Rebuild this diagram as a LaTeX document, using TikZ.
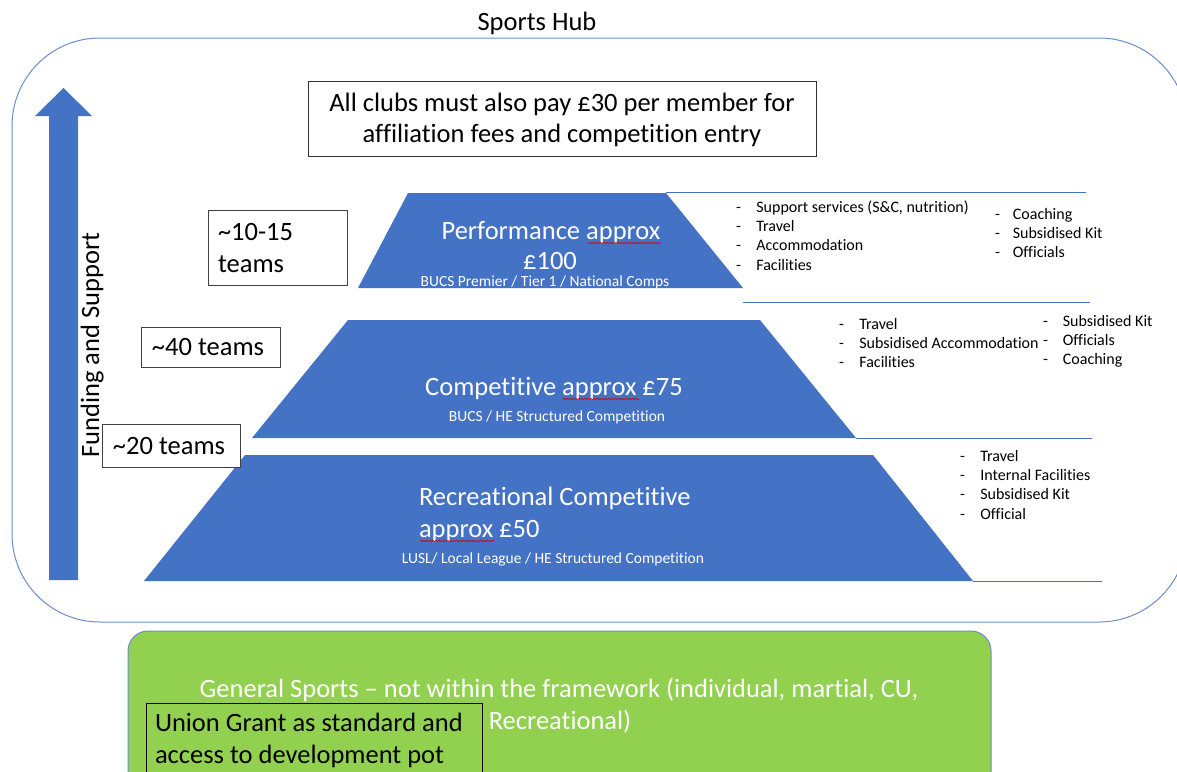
\documentclass[tikz,border=0pt]{standalone}
\usepackage{fontspec}
\setmainfont{Carlito}[Ligatures=NoCommon]
\usetikzlibrary{decorations.pathmorphing}
\definecolor{pblue}{HTML}{4472C4}
\definecolor{oblue}{HTML}{6C8EC9}
\definecolor{pgreen}{HTML}{92D050}
\begin{document}
\begin{tikzpicture}[x=1pt,y=-1pt,
  every node/.style={inner sep=0pt, outer sep=0pt},
  tier/.style={fill=pblue, draw=none},
  sepline/.style={draw=pblue, line width=0.9pt},
  bigtxt/.style={font=\fontsize{26.5}{32}\selectfont},
  tiertxt/.style={font=\fontsize{26.5}{32}\selectfont, text=white},
  smalltxt/.style={font=\fontsize{15.5}{18}\selectfont, text=white},
  bultxt/.style={font=\fontsize{16}{19.4}\selectfont, anchor=base west},
  teambox/.style={draw=black!75, line width=0.9pt, fill=white},
  squig/.style={draw=red!85!black, line width=0.6pt, decorate,
    decoration={snake, segment length=3pt, amplitude=0.8pt}}
]
\useasboundingbox (0,0) rectangle (1177,771);

% Sports hub frame
\draw[oblue, line width=1pt, rounded corners=88pt] (12,38) rectangle (1187,622);
\node[bigtxt, anchor=base] (hub) at (537,30.5) {Sports Hub};

% arrow
\fill[pblue] (49,580) -- (49,116) -- (35,116) -- (63.5,88) -- (92,116) -- (78,116) -- (78,580) -- cycle;
\node[bigtxt, rotate=90, anchor=base] (fund) at (99,345) {Funding and Support};

% top note
\draw[black!80, line width=0.9pt] (308,81) rectangle (816,156);
\node[bigtxt, anchor=base] (note1) at (562,111.5) {All clubs must also pay £30 per member for};
\node[bigtxt, anchor=base] (note2) at (562,142.5) {affiliation fees and competition entry};

% separator lines
\draw[sepline] (666,192) -- (1086,192);
\draw[sepline] (743,302) -- (1090,302);
\draw[sepline] (856,438) -- (1092,438);
\draw[sepline] (973,581) -- (1102,581);

% tiers
\fill[tier] (408,193) -- (666,193) -- (743,288) -- (358,288) -- cycle;
\fill[tier] (348,320) -- (760,320) -- (856,438) -- (252,438) -- cycle;
\fill[tier] (245,455) -- (873,455) -- (973,581) -- (144,581) -- cycle;

% tier texts
\node[tiertxt, anchor=base] (perf1) at (551,239.5) {Performance approx};
\node[tiertxt, anchor=base] (perf2) at (550,269.5) {£100};
\node[smalltxt, anchor=base] (perf3) at (545,286.5) {BUCS Premier / Tier 1 / National Comps};
\draw[squig] (588,243) -- (661,243);

\node[tiertxt, anchor=base] (comp1) at (554,395.5) {Competitive approx £75};
\node[smalltxt, anchor=base] (comp2) at (557,421) {BUCS / HE Structured Competition};
\draw[squig] (563,399) -- (639,399);

\node[tiertxt, anchor=base west] (rec1) at (419,505.5) {Recreational Competitive};
\node[tiertxt, anchor=base west] (rec2) at (419,537.5) {approx £50};
\node[smalltxt, anchor=base] (rec3) at (553,563) {LUSL/ Local League / HE Structured Competition};
\draw[squig] (420,541) -- (494,541);

% bullet lists
\node[bultxt] (pl) at (736,212) {\begin{tabular}[t]{@{}l@{\hspace{15.5pt}}l@{}}
- & Support services (S\&C, nutrition)\\
- & Travel\\
- & Accommodation\\
- & Facilities
\end{tabular}};
\node[bultxt] (pr) at (995,219) {\begin{tabular}[t]{@{}l@{\hspace{13pt}}l@{}}
- & Coaching\\
- & Subsidised Kit\\
- & Officials
\end{tabular}};
\node[bultxt] (cl) at (839,329) {\begin{tabular}[t]{@{}l@{\hspace{15.5pt}}l@{}}
- & Travel\\
- & Subsidised Accommodation\\
- & Facilities
\end{tabular}};
\node[bultxt] (cr) at (1043,326) {\begin{tabular}[t]{@{}l@{\hspace{15pt}}l@{}}
- & Subsidised Kit\\
- & Officials\\
- & Coaching
\end{tabular}};
\node[bultxt] (rl) at (960,461) {\begin{tabular}[t]{@{}l@{\hspace{15.5pt}}l@{}}
- & Travel\\
- & Internal Facilities\\
- & Subsidised Kit\\
- & Official
\end{tabular}};

% team boxes
\draw[teambox] (208,210) rectangle (347,285);
\node[bigtxt, anchor=base west] (t1a) at (218,240.5) {\textasciitilde10-15};
\node[bigtxt, anchor=base west] (t1b) at (218,272.5) {teams};
\draw[teambox] (141,327) rectangle (280,367);
\node[bigtxt, anchor=base] (t2) at (208,355.5) {\textasciitilde40 teams};
\draw[teambox] (102,424) rectangle (240,467);
\node[bigtxt, anchor=base] (t3) at (169,454.5) {\textasciitilde20 teams};

% general sports
\draw[oblue, line width=1pt, fill=pgreen, rounded corners=20pt] (128,631) rectangle (991,800);
\node[font=\fontsize{26.5}{32}\selectfont, text=white, anchor=base] (gen1) at (559,697.5) {General Sports – not within the framework (individual, martial, CU,};
\node[font=\fontsize{26.5}{32}\selectfont, text=white, anchor=base] (gen2) at (560,729.5) {Recreational)};
\draw[black, line width=1pt] (146,703) rectangle (482,790);
\node[bigtxt, anchor=base west] (ug1) at (155,731.5) {Union Grant as standard and};
\node[bigtxt, anchor=base west] (ug2) at (155,763.5) {access to development pot};
\end{tikzpicture}
\end{document}
